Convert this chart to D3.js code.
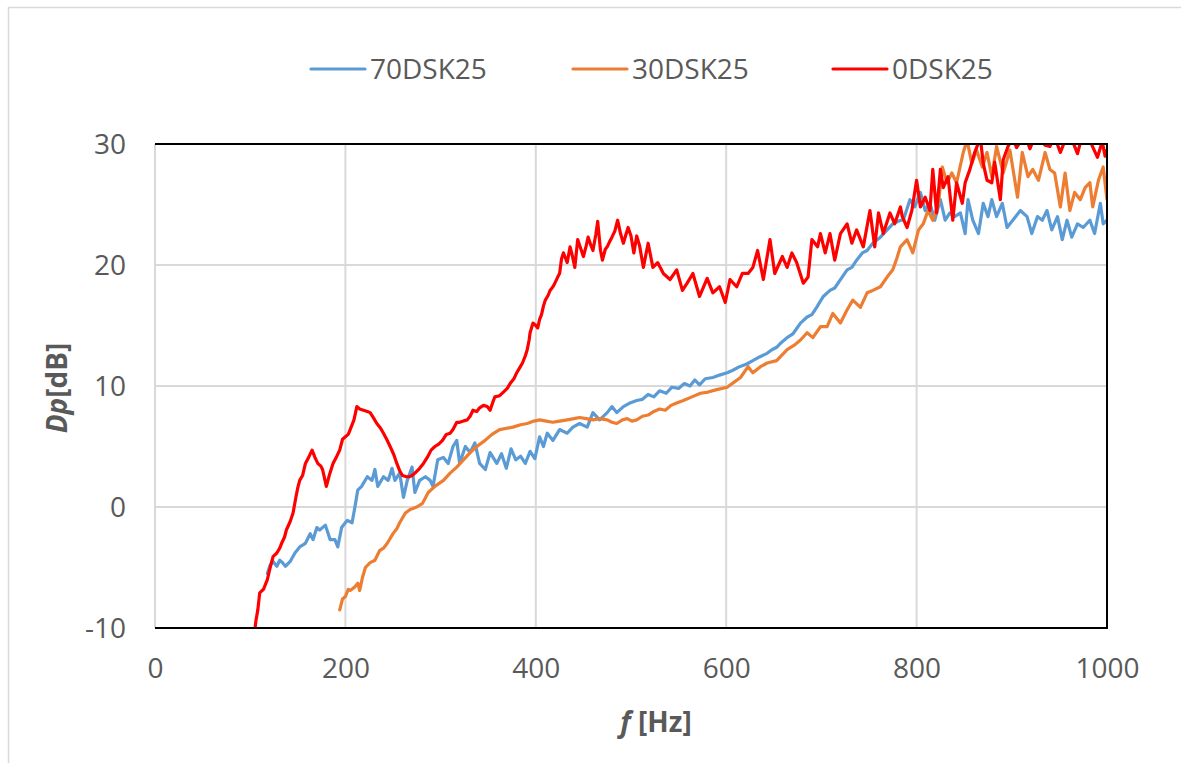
<!DOCTYPE html>
<html>
<head>
<meta charset="utf-8">
<script src="https://cdn.jsdelivr.net/npm/d3@7"></script>
<style>
  body { margin: 0; background: #fff; }
  text { font-family: "Open Sans", "Noto Sans", sans-serif; fill: #595959; }
</style>
</head>
<body>
<script>
// series: [frequency Hz, Dp dB]
var blue70 = [
  [118,-5.5],[121,-4.8],[124,-4.5],[128,-4.9],[131,-4.4],[134,-4.6],[137,-4.9],[142,-4.5],[147,-3.8],[152,-3.3],
  [158,-3.0],[163,-2.2],[166,-2.7],[170,-1.7],[173,-1.9],[179,-1.5],[184,-2.7],[189,-2.7],[192,-3.3],[196,-1.7],
  [202,-1.1],[207,-1.3],[210,0.0],[213,1.4],[217,1.7],[223,2.5],[228,2.2],[231,3.1],[234,1.7],[240,2.5],
  [245,2.2],[249,3.2],[252,2.2],[257,2.8],[261,0.8],[265,2.2],[270,3.3],[273,1.2],[278,2.2],[284,2.5],
  [289,2.2],[292,1.7],[297,3.9],[303,4.1],[308,3.6],[313,5.0],[317,5.5],[320,3.6],[326,5.0],[331,4.5],
  [336,5.3],[341,3.6],[347,3.1],[352,4.5],[359,3.6],[364,4.4],[369,3.2],[374,4.8],[379,3.9],[384,4.2],
  [389,3.6],[394,4.6],[399,4.0],[404,5.8],[408,5.0],[412,6.1],[418,5.5],[425,6.4],[433,6.1],[439,6.6],
  [446,6.9],[454,6.6],[460,7.8],[467,7.2],[475,7.8],[480,8.3],[485,7.8],[492,8.3],[499,8.6],[506,8.8],
  [512,8.9],[518,9.3],[524,9.1],[530,9.6],[537,9.4],[543,9.9],[550,9.8],[556,10.2],[562,10.0],[567,10.5],
  [572,10.1],[578,10.6],[586,10.7],[593,10.9],[601,11.1],[607,11.3],[614,11.6],[621,11.8],[628,12.1],[635,12.4],
  [643,12.7],[648,13.0],[653,13.2],[658,13.6],[664,14.0],[670,14.3],[678,15.2],[685,15.7],[690,15.9],[695,16.5],
  [702,17.4],[709,17.9],[714,18.1],[720,18.8],[727,19.6],[732,19.8],[737,20.4],[743,21.0],[748,21.2],[754,21.8],
  [762,22.3],[769,22.9],[775,23.4],[783,23.7],[786,23.7],[793,25.4],[798,24.8],[804,26.0],[809,24.5],[814,25.1],
  [819,23.7],[825,25.4],[830,23.7],[835,24.3],[840,24.0],[846,24.3],[851,22.6],[854,25.4],[859,23.7],[865,22.6],
  [870,25.1],[875,24.0],[879,25.4],[884,24.0],[890,25.1],[895,23.1],[901,23.7],[909,24.5],[916,24.0],[921,22.6],
  [927,24.0],[932,23.7],[937,24.5],[942,22.9],[948,24.0],[953,22.1],[958,23.7],[963,22.3],[969,23.4],[975,23.1],
  [982,23.7],[987,22.6],[993,25.1],[996,23.4],[1000,23.7]
];

var orange30 = [
  [194,-8.5],[197,-7.6],[200,-7.4],[203,-6.8],[205,-6.9],[210,-6.6],[213,-6.3],[215,-6.9],[218,-5.8],[221,-5.0],
  [226,-4.6],[231,-4.4],[236,-3.6],[240,-3.4],[244,-3.0],[250,-2.2],[254,-1.8],[257,-1.3],[263,-0.5],[268,-0.2],
  [275,0.0],[281,0.3],[287,1.2],[294,1.7],[303,2.2],[310,2.8],[317,3.3],[324,3.9],[331,4.5],[338,5.0],
  [345,5.4],[354,6.0],[362,6.4],[376,6.6],[384,6.8],[391,6.9],[398,7.1],[404,7.2],[411,7.1],[418,7.0],
  [425,7.1],[433,7.2],[440,7.3],[446,7.4],[453,7.3],[460,7.2],[467,7.3],[475,7.2],[480,7.0],[485,6.9],
  [491,7.2],[496,7.3],[501,7.1],[506,7.2],[512,7.5],[518,7.6],[524,7.9],[530,8.1],[536,8.0],[542,8.4],
  [548,8.6],[555,8.8],[564,9.1],[573,9.4],[581,9.5],[590,9.7],[601,9.9],[608,10.3],[615,10.7],[623,11.6],
  [628,11.1],[636,11.6],[643,11.9],[653,12.1],[659,12.6],[664,13.0],[672,13.4],[678,13.8],[685,14.4],[691,14.0],
  [699,14.9],[706,14.9],[712,16.0],[720,15.2],[727,16.3],[733,17.1],[741,16.5],[748,17.7],[754,17.9],[762,18.2],
  [769,19.0],[775,19.6],[779,20.5],[783,21.5],[790,22.1],[796,21.0],[802,22.9],[807,23.4],[812,24.5],[817,23.7],
  [823,25.1],[827,28.1],[832,26.8],[837,27.6],[842,26.8],[849,29.3],[853,30.3],[858,28.4],[863,29.5],[869,28.1],
  [874,29.3],[879,27.3],[884,29.8],[891,27.6],[898,29.5],[906,25.6],[911,29.3],[917,27.3],[922,27.9],[928,27.0],
  [935,29.3],[940,27.9],[945,27.6],[951,24.8],[956,27.6],[961,24.5],[966,26.0],[972,25.4],[977,26.4],[982,26.8],
  [985,24.8],[991,27.0],[996,28.1],[1000,25.4]
];

var red0 = [
  [103,-11.5],[106,-9.4],[108,-8.5],[110,-7.1],[114,-6.8],[118,-6.0],[121,-5.0],[124,-4.1],[128,-3.8],[131,-3.4],
  [133,-3.0],[136,-2.5],[138,-1.9],[142,-1.2],[145,-0.5],[148,0.8],[150,1.6],[152,2.2],[155,2.6],[158,3.6],
  [162,4.2],[165,4.7],[168,4.1],[171,3.6],[174,3.4],[176,3.1],[178,2.4],[180,1.7],[183,2.6],[187,3.6],
  [191,4.2],[194,4.7],[197,5.6],[200,5.8],[203,6.0],[205,6.4],[209,7.2],[212,8.3],[215,8.1],[219,8.0],
  [223,7.9],[226,7.8],[230,7.3],[233,6.9],[237,6.5],[240,6.1],[244,5.5],[247,5.0],[251,4.3],[254,3.6],
  [257,3.0],[260,2.6],[264,2.5],[267,2.5],[270,2.6],[273,2.8],[278,3.2],[282,3.6],[286,4.1],[290,4.7],
  [294,5.0],[298,5.2],[302,5.5],[306,6.0],[310,6.1],[313,6.4],[317,7.0],[320,7.0],[324,7.1],[328,7.2],
  [331,7.5],[334,8.0],[338,7.9],[341,8.2],[345,8.4],[349,8.3],[352,8.0],[355,8.7],[357,9.1],[362,9.2],
  [366,9.5],[370,9.8],[373,10.2],[377,10.6],[380,11.1],[383,11.5],[386,11.9],[389,12.5],[391,13.0],[393,13.8],
  [394,14.4],[397,15.2],[400,15.0],[402,14.8],[404,15.5],[406,15.9],[408,16.6],[410,17.1],[413,17.5],[415,17.9],
  [418,18.2],[420,18.5],[423,19.0],[425,19.3],[427,20.5],[429,21.0],[431,20.6],[433,20.2],[436,21.5],[438,20.9],
  [441,19.8],[444,22.1],[447,21.4],[450,20.7],[453,21.6],[455,22.3],[458,21.6],[460,21.2],[463,22.5],[465,23.6],
  [468,21.2],[470,20.4],[473,21.3],[475,21.5],[478,22.0],[480,22.3],[483,22.8],[486,23.7],[489,22.6],[492,21.8],
  [495,22.6],[497,23.1],[500,22.4],[503,21.0],[506,22.4],[509,21.6],[513,19.8],[518,21.8],[523,19.8],[528,20.2],
  [534,19.3],[541,18.8],[548,19.6],[554,17.9],[559,18.5],[565,19.3],[572,17.4],[580,18.9],[586,17.7],[593,18.2],
  [599,16.9],[604,18.8],[611,18.2],[617,19.3],[623,19.3],[628,19.8],[633,21.2],[639,18.8],[646,22.1],[651,19.3],
  [659,20.7],[664,19.8],[669,21.0],[674,20.2],[681,18.5],[686,19.0],[690,22.1],[696,21.5],[699,22.6],[704,21.0],
  [709,22.6],[714,20.4],[720,22.6],[727,23.4],[732,21.8],[737,22.9],[744,21.5],[751,24.5],[756,21.5],[760,24.3],
  [765,22.6],[772,24.3],[777,23.4],[783,24.8],[785,24.0],[790,23.1],[795,24.5],[800,27.0],[804,24.8],[809,25.6],
  [814,24.5],[817,27.9],[821,24.3],[825,27.9],[828,26.4],[833,27.3],[838,23.7],[842,26.8],[848,25.1],[851,26.8],
  [856,27.9],[861,29.3],[867,30.5],[870,28.4],[874,27.0],[879,26.8],[882,28.5],[888,25.4],[891,28.7],[896,29.8],
  [901,30.5],[905,29.7],[909,30.2],[914,30.8],[919,29.6],[924,30.6],[930,30.4],[935,29.9],[940,29.8],[945,30.6],
  [951,29.3],[956,30.3],[962,30.6],[969,29.2],[973,30.4],[977,30.5],[983,30.1],[990,28.9],[995,30.2],[998,29.0],
  [1000,29.5]
];

var seriesNames = ["70DSK25", "30DSK25", "0DSK25"];
var seriesColors = ["#5B9BD5", "#ED7D31", "#FF0000"];
var seriesData = [blue70, orange30, red0];

var xTicks = [0, 200, 400, 600, 800, 1000];
var yTicks = [-10, 0, 10, 20, 30];

var width = 1181, height = 763;
var plot = { left: 155, right: 1107, top: 144, bottom: 628 };

var svg = d3.select("body").append("svg")
  .attr("width", width)
  .attr("height", height);

// outer chart border
svg.append("rect")
  .attr("x", 8.5).attr("y", 7.5)
  .attr("width", width).attr("height", height)
  .attr("fill", "none")
  .attr("stroke", "#d9d9d9")
  .attr("stroke-width", 1.5);

var x = d3.scaleLinear().domain([0, 1000]).range([plot.left, plot.right]);
var y = d3.scaleLinear().domain([-10, 30]).range([plot.bottom, plot.top]);

// gridlines
var grid = svg.append("g").attr("class", "grid");
grid.selectAll("line.v")
  .data(xTicks.slice(0, -1))
  .enter().append("line")
    .attr("x1", function(d) { return x(d); })
    .attr("x2", function(d) { return x(d); })
    .attr("y1", plot.top).attr("y2", plot.bottom)
    .attr("stroke", "#d9d9d9").attr("stroke-width", 2);
grid.selectAll("line.h")
  .data(yTicks.slice(1, -1))
  .enter().append("line")
    .attr("x1", plot.left).attr("x2", plot.right)
    .attr("y1", function(d) { return y(d); })
    .attr("y2", function(d) { return y(d); })
    .attr("stroke", "#d9d9d9").attr("stroke-width", 2);

// clip the lines to the plot area
svg.append("clipPath").attr("id", "plotclip")
  .append("rect")
    .attr("x", plot.left).attr("y", plot.top)
    .attr("width", plot.right - plot.left)
    .attr("height", plot.bottom - plot.top);

var line = d3.line()
  .x(function(d) { return x(d[0]); })
  .y(function(d) { return y(d[1]); });

svg.append("g").attr("clip-path", "url(#plotclip)")
  .selectAll("path")
  .data(seriesData)
  .enter().append("path")
    .attr("d", line)
    .attr("fill", "none")
    .attr("stroke", function(d, i) { return seriesColors[i]; })
    .attr("stroke-width", 3.2)
    .attr("stroke-linejoin", "round")
    .attr("stroke-linecap", "round");

// black frame on top, right, bottom
var frame = "M" + plot.left + "," + y(30) + "H" + x(1000) + "V" + y(-10) + "H" + plot.left;
svg.append("path")
  .attr("d", frame)
  .attr("fill", "none")
  .attr("stroke", "#000")
  .attr("stroke-width", 2);

// axes (labels only, no domain or ticks)
var plain = function(d) { return String(d); };
var xAxis = svg.append("g")
  .attr("transform", "translate(0," + plot.bottom + ")")
  .call(d3.axisBottom(x).tickValues(xTicks).tickFormat(plain).tickSize(0).tickPadding(30));
var yAxis = svg.append("g")
  .attr("transform", "translate(" + plot.left + ",0)")
  .call(d3.axisLeft(y).tickValues(yTicks).tickFormat(plain).tickSize(0).tickPadding(29));
[xAxis, yAxis].forEach(function(a) {
  a.select(".domain").remove();
  a.selectAll("text")
    .attr("fill", "#595959")
    .style("font-family", "'Open Sans', 'Noto Sans', sans-serif")
    .style("font-size", "28px");
});
yAxis.selectAll("text").attr("dy", "0.35em");

// axis titles
var xt = svg.append("text")
  .attr("x", 656).attr("y", 732)
  .attr("text-anchor", "middle")
  .style("font-size", "28px")
  .style("font-weight", "bold");
xt.append("tspan").style("font-style", "italic").text("f");
xt.append("tspan").text(" [Hz]");

var yt = svg.append("text")
  .attr("transform", "translate(67,388) rotate(-90)")
  .attr("text-anchor", "middle")
  .style("font-size", "28px")
  .style("font-weight", "bold");
yt.append("tspan").style("font-style", "italic").text("Dp");
yt.append("tspan").text("[dB]");

// legend
var legendX = [311, 573, 833];
var legend = svg.append("g").attr("class", "legend")
  .selectAll("g")
  .data(seriesNames)
  .enter().append("g")
    .attr("transform", function(d, i) { return "translate(" + legendX[i] + ",69)"; });
legend.append("line")
  .attr("x1", 0).attr("x2", 54)
  .attr("stroke", function(d, i) { return seriesColors[i]; })
  .attr("stroke-width", 3.2)
  .attr("stroke-linecap", "round");
legend.append("text")
  .attr("x", 59).attr("y", 10)
  .style("font-size", "28px")
  .text(function(d) { return d; });
</script>
</body>
</html>
